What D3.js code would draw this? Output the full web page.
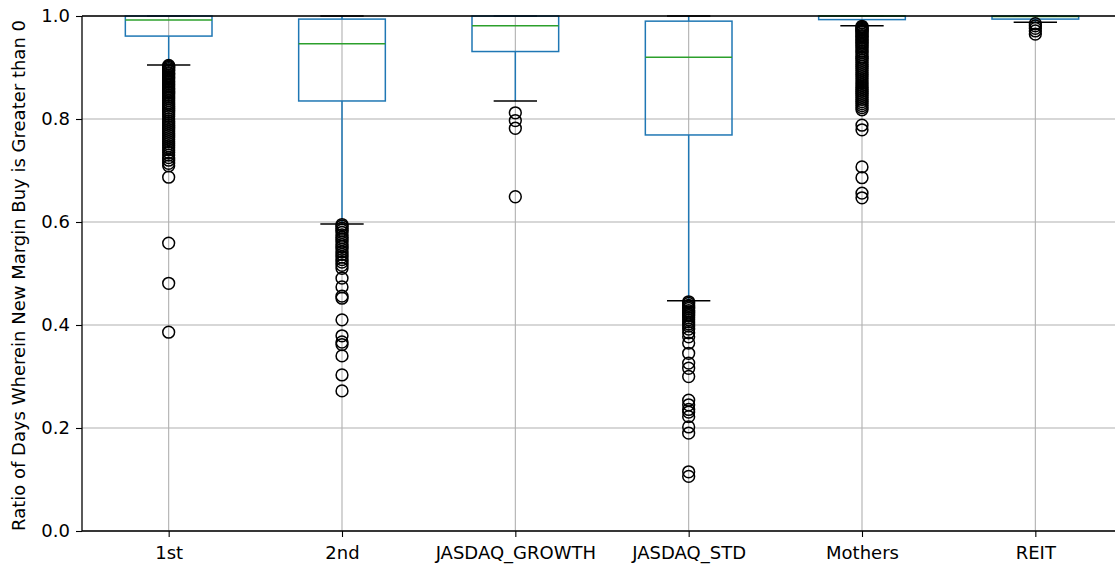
<!DOCTYPE html>
<html>
<head>
<meta charset="utf-8">
<script src="https://cdn.jsdelivr.net/npm/d3@7"></script>
<style>
  html, body { margin: 0; padding: 0; background: #fff; }
  svg { display: block; }
  text { font-family: "DejaVu Sans", sans-serif; fill: #000; }
</style>
</head>
<body>
<svg id="chart" width="1115" height="565"></svg>
<script>
// Market segments shown on the x axis
const categories = ["1st", "2nd", "JASDAQ_GROWTH", "JASDAQ_STD", "Mothers", "REIT"];

// Box statistics per segment
const q1Values     = [0.961, 0.835, 0.931, 0.769, 0.993, 0.994];
const medianValues = [0.992, 0.946, 0.981, 0.920, 1.000, 0.999];
const q3Values     = [1.000, 0.994, 1.000, 0.990, 1.000, 1.000];
const whiskerLow   = [0.905, 0.596, 0.835, 0.447, 0.981, 0.988];
const whiskerHigh  = [1.000, 1.000, 1.000, 1.000, 1.000, 1.000];

// Outlying observations per segment
const outliers1st = [0.904, 0.902, 0.900, 0.898, 0.895, 0.893, 0.890, 0.888, 0.885, 0.882,
  0.880, 0.877, 0.874, 0.871, 0.868, 0.865, 0.862, 0.859, 0.856, 0.853, 0.850, 0.846,
  0.843, 0.840, 0.836, 0.832, 0.829, 0.825, 0.821, 0.817, 0.813, 0.809, 0.805, 0.800,
  0.796, 0.792, 0.788, 0.784, 0.780, 0.776, 0.772, 0.768, 0.764, 0.760, 0.756, 0.752,
  0.748, 0.744, 0.740, 0.735, 0.730, 0.725, 0.720, 0.714, 0.709, 0.687, 0.559, 0.481, 0.386];
const outliers2nd = [0.595, 0.592, 0.588, 0.584, 0.580, 0.575, 0.570, 0.566, 0.561, 0.556,
  0.552, 0.547, 0.542, 0.537, 0.532, 0.527, 0.522, 0.516, 0.510, 0.491, 0.474, 0.456,
  0.452, 0.410, 0.379, 0.367, 0.362, 0.340, 0.303, 0.272];
const outliersGrowth = [0.812, 0.797, 0.782, 0.649];
const outliersStd = [0.445, 0.442, 0.438, 0.435, 0.432, 0.428, 0.425, 0.421, 0.418, 0.414,
  0.410, 0.406, 0.402, 0.398, 0.392, 0.385, 0.377, 0.365, 0.345, 0.326, 0.316, 0.300,
  0.254, 0.245, 0.236, 0.231, 0.222, 0.202, 0.190, 0.115, 0.106];
const outliersMothers = [0.980, 0.978, 0.976, 0.974, 0.972, 0.970, 0.968, 0.965, 0.962,
  0.960, 0.957, 0.954, 0.951, 0.948, 0.945, 0.942, 0.939, 0.936, 0.932, 0.929, 0.925,
  0.921, 0.918, 0.914, 0.910, 0.906, 0.902, 0.898, 0.894, 0.890, 0.886, 0.882, 0.878,
  0.874, 0.870, 0.866, 0.862, 0.858, 0.854, 0.850, 0.846, 0.842, 0.838, 0.834, 0.830,
  0.826, 0.822, 0.818, 0.788, 0.779, 0.707, 0.686, 0.656, 0.647];
const outliersReit = [0.985, 0.981, 0.976, 0.971, 0.965];

const yTicks = [0.0, 0.2, 0.4, 0.6, 0.8, 1.0];
const yLabel = "Ratio of Days Wherein New Margin Buy is Greater than 0";

const outlierSets = [outliers1st, outliers2nd, outliersGrowth, outliersStd, outliersMothers, outliersReit];

const boxes = categories.map((name, i) => ({
  name, pos: i + 1,
  q1: q1Values[i], median: medianValues[i], q3: q3Values[i],
  lo: whiskerLow[i], hi: whiskerHigh[i],
  fliers: outlierSets[i]
}));

// Plot geometry
const plot = { left: 82, right: 1122, top: 16, bottom: 531 };
const boxWidth = 0.5, capWidth = 0.25;
const boxColor = "#1f77b4", medianColor = "#2ca02c", gridColor = "#b0b0b0";
const fontSize = 18;

const svg = d3.select("#chart");

const x = d3.scaleLinear().domain([0.5, categories.length + 0.5]).range([plot.left, plot.right]);
const y = d3.scaleLinear().domain([0, 1]).range([plot.bottom, plot.top]);

// Gridlines
const grid = svg.append("g");
grid.selectAll("line.hg").data(yTicks).join("line")
  .attr("x1", plot.left).attr("x2", plot.right)
  .attr("y1", d => y(d)).attr("y2", d => y(d))
  .attr("stroke", gridColor).attr("stroke-width", 1.1);
grid.selectAll("line.vg").data(boxes).join("line")
  .attr("x1", d => x(d.pos)).attr("x2", d => x(d.pos))
  .attr("y1", plot.top).attr("y2", plot.bottom)
  .attr("stroke", gridColor).attr("stroke-width", 1.1);

// Boxes
const g = svg.append("g");
const half = (x(boxWidth) - x(0)) / 2;
const capHalf = (x(capWidth) - x(0)) / 2;

const bx = g.selectAll("g.box").data(boxes).join("g").attr("class", "box");

// whiskers
bx.append("line")
  .attr("x1", d => x(d.pos)).attr("x2", d => x(d.pos))
  .attr("y1", d => y(d.q1)).attr("y2", d => y(d.lo))
  .attr("stroke", boxColor).attr("stroke-width", 1.5);
bx.append("line")
  .attr("x1", d => x(d.pos)).attr("x2", d => x(d.pos))
  .attr("y1", d => y(d.q3)).attr("y2", d => y(d.hi))
  .attr("stroke", boxColor).attr("stroke-width", 1.5);

// caps
bx.append("line")
  .attr("x1", d => x(d.pos) - capHalf).attr("x2", d => x(d.pos) + capHalf)
  .attr("y1", d => y(d.lo)).attr("y2", d => y(d.lo))
  .attr("stroke", "#000").attr("stroke-width", 1.5);
bx.append("line")
  .attr("x1", d => x(d.pos) - capHalf).attr("x2", d => x(d.pos) + capHalf)
  .attr("y1", d => y(d.hi)).attr("y2", d => y(d.hi))
  .attr("stroke", "#000").attr("stroke-width", 1.5);

// box body
bx.append("rect")
  .attr("x", d => x(d.pos) - half).attr("width", half * 2)
  .attr("y", d => y(d.q3)).attr("height", d => y(d.q1) - y(d.q3))
  .attr("fill", "none").attr("stroke", boxColor).attr("stroke-width", 1.5);

// median
bx.append("line")
  .attr("x1", d => x(d.pos) - half).attr("x2", d => x(d.pos) + half)
  .attr("y1", d => y(d.median)).attr("y2", d => y(d.median))
  .attr("stroke", medianColor).attr("stroke-width", 1.5);

// outliers
bx.selectAll("circle").data(d => d.fliers.map(v => ({ pos: d.pos, v }))).join("circle")
  .attr("cx", d => x(d.pos)).attr("cy", d => y(d.v)).attr("r", 5.9)
  .attr("fill", "none").attr("stroke", "#000").attr("stroke-width", 1.5);

// Axes
const yAxis = d3.axisLeft(y).tickValues(yTicks).tickFormat(d3.format(".1f")).tickSize(6).tickPadding(6);
const xAxis = d3.axisBottom(x).tickValues(boxes.map(d => d.pos))
  .tickFormat((d, i) => categories[i]).tickSize(6).tickPadding(9);

const ya = svg.append("g").attr("transform", `translate(${plot.left},0)`).call(yAxis);
const xa = svg.append("g").attr("transform", `translate(0,${plot.bottom})`).call(xAxis);
[ya, xa].forEach(a => {
  a.select(".domain").remove();
  a.selectAll(".tick line").attr("stroke", "#000").attr("stroke-width", 1.1);
  a.selectAll(".tick text").attr("font-size", fontSize).attr("font-family", "DejaVu Sans").attr("fill", "#000");
});

// Spines
svg.append("line").attr("x1", plot.left).attr("x2", plot.left).attr("y1", plot.top).attr("y2", plot.bottom)
  .attr("stroke", "#000").attr("stroke-width", 1.3);
svg.append("line").attr("x1", plot.left).attr("x2", plot.right).attr("y1", plot.bottom).attr("y2", plot.bottom)
  .attr("stroke", "#000").attr("stroke-width", 1.3);
svg.append("line").attr("x1", plot.left).attr("x2", plot.right).attr("y1", plot.top).attr("y2", plot.top)
  .attr("stroke", "#000").attr("stroke-width", 1.3);

// Y axis title
svg.append("text")
  .attr("transform", `translate(25,${(plot.top + plot.bottom) / 2 + 2}) rotate(-90)`)
  .attr("text-anchor", "middle")
  .attr("font-size", fontSize)
  .text(yLabel);
</script>
</body>
</html>
